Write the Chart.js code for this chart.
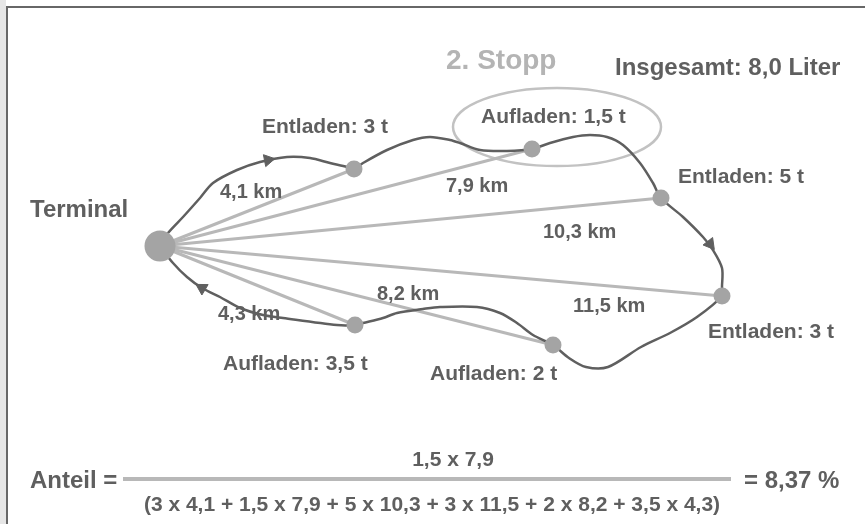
<!DOCTYPE html>
<html>
<head>
    <script src="https://cdn.jsdelivr.net/npm/chart.js"></script>
    <title>Anteil 2. Stopp</title>
    <style>
        body { margin: 0; background: #fff; }
        #strip { position: absolute; left: 0; top: 0; width: 6px; height: 524px; background: #e6e6e6; }
        #frame { position: absolute; left: 6px; top: 6px; width: 859px; height: 518px; box-sizing: border-box;
                 border-left: 2px solid #676767; border-top: 2px solid #676767; }
        #tour { position: absolute; left: 0; top: 0; }
    </style>
</head>
<body>
    <div id="strip"></div>
    <div id="frame"></div>
    <canvas id="tour" width="865" height="524"></canvas>

    <script>
        // Stopps der Tour (in Fahrreihenfolge)
        const stopNames = ['Entladen: 3 t', 'Aufladen: 1,5 t', 'Entladen: 5 t', 'Entladen: 3 t', 'Aufladen: 2 t', 'Aufladen: 3,5 t'];
        const loads = [3, 1.5, 5, 3, 2, 3.5];
        const distances = [4.1, 7.9, 10.3, 11.5, 8.2, 4.3];
        const stopX = [354, 532, 661, 722, 553, 355];
        const stopY = [169, 149, 198, 296, 345, 325];
        const terminalX = 160;
        const terminalY = 246;
        const totalLiter = 8.0;
        const focusStop = 1;

        // Fahrweg
        const routeX = [160, 168, 183, 200, 213, 237, 260, 287, 310, 330, 347, 354, 363, 387, 413, 430, 450, 460, 480, 507,
                        532, 550, 573, 590, 607, 623, 640, 653, 661, 683, 703, 713, 722, 722, 722, 697, 670, 641, 608, 586,
                        569, 553, 533, 517, 500, 477, 440, 423, 397, 383, 363, 355, 337, 283, 263, 240, 220, 202, 187, 173, 160];
        const routeY = [246, 233, 217, 198, 183, 170, 162, 157, 158, 163, 167, 169, 163, 150, 140, 137, 140, 143, 150, 151,
                        149, 143, 137, 135, 137, 145, 163, 183, 198, 217, 237, 250, 268, 287, 296, 317, 333, 347, 367, 367,
                        358, 345, 335, 323, 313, 307, 307, 309, 313, 318, 323, 325, 325, 318, 315, 308, 297, 288, 277, 263, 246];

        // Fahrtrichtung
        const arrowX = [268, 710, 202];
        const arrowY = [160, 244, 288];
        const arrowAngle = [79, 142, 301];

        const dark = '#5f5f5f';
        const light = '#b8b8b8';
        const font = '"Liberation Sans", Arial, sans-serif';

        function de(v) {
            return String(v).replace('.', ',');
        }

        const products = loads.map((l, i) => l * distances[i]);
        const share = products[focusStop] / products.reduce((a, b) => a + b, 0) * 100;

        const stopLabelPos = [[262, 133], [481, 123], [678, 183], [708, 338], [430, 380], [223, 370]];
        const kmLabelPos = [[220, 198], [446, 192], [543, 238], [573, 312], [377, 300], [218, 320]];

        const texts = [
            { t: '2. Stopp', x: 446, y: 69, size: 28, color: '#b4b4b4' },
            { t: 'Insgesamt: ' + totalLiter.toFixed(1).replace('.', ',') + ' Liter', x: 615, y: 75, size: 24 },
            { t: 'Terminal', x: 30, y: 217, size: 24 },
            { t: 'Anteil =', x: 30, y: 488, size: 24 },
            { t: de(loads[focusStop]) + ' x ' + de(distances[focusStop]), x: 453, y: 466, size: 21, align: 'center' },
            { t: '(' + loads.map((l, i) => de(l) + ' x ' + de(distances[i])).join(' + ') + ')', x: 432, y: 511, size: 21, align: 'center' },
            { t: '= ' + share.toFixed(2).replace('.', ',') + ' %', x: 744, y: 488, size: 24 }
        ];
        stopNames.forEach((n, i) => texts.push({ t: n, x: stopLabelPos[i][0], y: stopLabelPos[i][1], size: 21 }));
        distances.forEach((d, i) => texts.push({ t: de(d) + ' km', x: kmLabelPos[i][0], y: kmLabelPos[i][1], size: 20 }));

        const decorPlugin = {
            id: 'decor',
            beforeDatasetsDraw(chart) {
                const ctx = chart.ctx;
                const xs = chart.scales.x, ys = chart.scales.y;
                ctx.save();
                ctx.strokeStyle = '#c2c2c2';
                ctx.lineWidth = 2.5;
                ctx.beginPath();
                ctx.ellipse(xs.getPixelForValue(557), ys.getPixelForValue(127), 104, 39, 0, 0, Math.PI * 2);
                ctx.stroke();
                // Bruchstrich
                ctx.strokeStyle = light;
                ctx.lineWidth = 4;
                ctx.beginPath();
                ctx.moveTo(xs.getPixelForValue(123), ys.getPixelForValue(479));
                ctx.lineTo(xs.getPixelForValue(731), ys.getPixelForValue(479));
                ctx.stroke();
                ctx.restore();
            },
            afterDatasetsDraw(chart) {
                const ctx = chart.ctx;
                const xs = chart.scales.x, ys = chart.scales.y;
                ctx.save();
                ctx.textBaseline = 'alphabetic';
                texts.forEach(o => {
                    ctx.font = 'bold ' + o.size + 'px ' + font;
                    ctx.fillStyle = o.color || dark;
                    ctx.textAlign = o.align || 'left';
                    ctx.fillText(o.t, xs.getPixelForValue(o.x), ys.getPixelForValue(o.y));
                });
                ctx.restore();
            }
        };

        const spokes = stopX.map((x, i) => ({
            data: [{ x: terminalX, y: terminalY }, { x: x, y: stopY[i] }],
            showLine: true,
            borderColor: light,
            borderWidth: 3,
            pointRadius: 0,
            order: 4
        }));

        new Chart(document.getElementById('tour'), {
            type: 'scatter',
            data: {
                datasets: [
                    {
                        data: [{ x: terminalX, y: terminalY }].concat(stopX.map((x, i) => ({ x: x, y: stopY[i] }))),
                        backgroundColor: '#a4a4a4',
                        borderWidth: 0,
                        pointRadius: [15.5, 8.5, 8.5, 8.5, 8.5, 8.5, 8.5],
                        order: 0
                    },
                    {
                        data: arrowX.map((x, i) => ({ x: x, y: arrowY[i] })),
                        pointStyle: 'triangle',
                        rotation: arrowAngle,
                        pointRadius: 7,
                        backgroundColor: dark,
                        borderColor: dark,
                        borderWidth: 1,
                        order: 1
                    },
                    {
                        data: routeX.map((x, i) => ({ x: x, y: routeY[i] })),
                        showLine: true,
                        tension: 0.3,
                        borderColor: dark,
                        borderWidth: 2.5,
                        pointRadius: 0,
                        order: 2
                    }
                ].concat(spokes)
            },
            options: {
                responsive: false,
                animation: false,
                layout: { padding: 0, autoPadding: false },
                plugins: {
                    legend: { display: false },
                    tooltip: { enabled: false }
                },
                scales: {
                    x: { type: 'linear', min: 0, max: 865, display: false },
                    y: { type: 'linear', min: 0, max: 524, reverse: true, display: false }
                }
            },
            plugins: [decorPlugin]
        });
    </script>
</body>
</html>
